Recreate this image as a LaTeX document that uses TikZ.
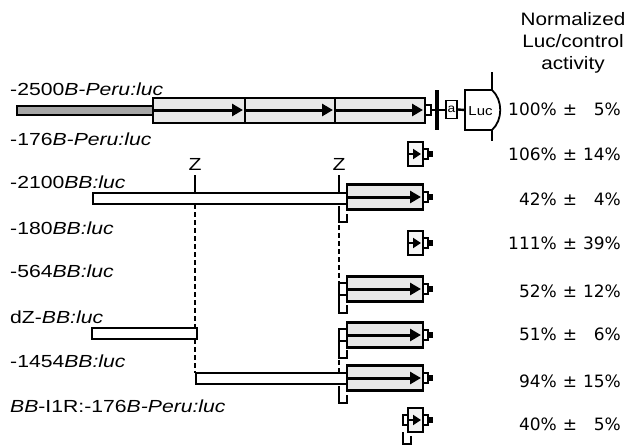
\documentclass[tikz,border=0pt]{standalone}
\usepackage{fontspec}
\setmainfont{Liberation Sans}
\newfontfamily\labfont{Liberation Sans}[FakeStretch=1.21]
\newfontfamily\hdfont{Liberation Sans}[FakeStretch=1.15]
\newfontfamily\pcfont{DejaVu Sans}
\usetikzlibrary{arrows.meta}
\tikzset{
 x=1pt,y=-1pt,
 outl/.style={draw=black,line width=2.1pt},
 gbox/.style={outl,fill=gray!18},
 wbox/.style={outl,fill=white},
 darkbar/.style={outl,fill=gray!70},
 arrline/.style={line width=3pt,-{Triangle[length=11pt,width=12pt]}},
 dashln/.style={line width=1.3pt,dash pattern=on 5pt off 3pt},
 lab/.style={anchor=base west,inner sep=0pt,font=\labfont\fontsize{17.5}{20}\selectfont},
 zlab/.style={anchor=base,inner sep=0pt,font=\labfont\fontsize{17.5}{20}\selectfont},
 pct/.style={anchor=base east,inner sep=0pt,font=\pcfont\fontsize{17}{20}\selectfont},
 pm/.style={anchor=base,inner sep=0pt,font=\pcfont\fontsize{17}{20}\selectfont},
 hd/.style={anchor=base,inner sep=0pt,font=\hdfont\fontsize{18}{20}\selectfont},
 ubr/.style={line width=1.8pt},
}
% tail piece at x, centre c
\newcommand\tailpc[2]{%
 \draw[wbox,line width=1.6pt] (#1,{#2-5}) rectangle ({#1+5},{#2+5});
 \fill ({#1+5},{#2-3}) rectangle ({#1+10},{#2+3});}
% BB promoter box at centre c
\newcommand\bbprom[1]{%
 \draw[gbox] (347,{#1-12.5}) rectangle (423,{#1+12.5});
 \draw[arrline] (347,#1) -- (421,#1);
 \tailpc{423}{#1}}
% small promoter at centre c
\newcommand\smprom[1]{%
 \draw[outl,fill=gray!8] (408,{#1-12}) rectangle (423,{#1+12});
 \draw[line width=2.6pt,-{Triangle[length=8pt,width=10pt]}] (408,#1) -- (421,#1);
 \tailpc{423}{#1}}
% U bracket
\newcommand\ubrack[3]{%
 \draw[ubr] (#1,#2) -- (#1,#3) -- ({#1+8},#3) -- ({#1+8},{#3-8});}
\begin{document}
\begin{tikzpicture}
\useasboundingbox (0,0) rectangle (627,445);
% header
\node[hd] (h1) at (573,25) {Normalized};
\node[hd] (h2) at (573,47) {Luc/control};
\node[hd] (h3) at (573,69) {activity};
% construct labels
\node[lab] (l1) at (10,95) {-2500\textit{B-Peru:luc}};
\node[lab] (l2) at (10,145) {-176\textit{B-Peru:luc}};
\node[lab] (l3) at (10,188) {-2100\textit{BB:luc}};
\node[lab] (l4) at (10,234) {-180\textit{BB:luc}};
\node[lab] (l5) at (10,277) {-564\textit{BB:luc}};
\node[lab] (l6) at (10,323) {dZ-\textit{BB:luc}};
\node[lab] (l7) at (10,367) {-1454\textit{BB:luc}};
\node[lab] (l8) at (10,412) {\textit{BB}-I1R:-176\textit{B-Peru:luc}};
% percentages
\foreach \v/\e/\b [count=\i] in {100\%/5\%/115,106\%/14\%/160,42\%/4\%/205,111\%/39\%/249,52\%/12\%/297,51\%/6\%/340,94\%/15\%/387,40\%/5\%/430}{
 \node[pct] (v\i) at (557,\b) {\v};
 \node[pm] (p\i) at (570,\b) {±};
 \node[pct] (e\i) at (621,\b) {\e};
}
% row 1
\draw[darkbar] (17,106) rectangle (153,115);
\draw[gbox] (153,98) rectangle (425,123);
\draw[outl] (245,98) -- (245,123);
\draw[outl] (335,98) -- (335,123);
\draw[arrline] (153,110) -- (243,110);
\draw[arrline] (245,110) -- (333,110);
\draw[arrline] (335,110) -- (423,110);
\draw[wbox,line width=1.6pt] (425,105) rectangle (431,115);
\draw[line width=2.4pt] (431,110) -- (446,110);
\draw[line width=3.5pt] (437,90) -- (437,130);
\node[outl,line width=1.8pt,fill=white,minimum width=11pt,minimum height=18pt,inner sep=0pt,font=\hdfont\fontsize{12}{12}\selectfont] (abox) at (451.5,109.5) {a};
\draw[line width=2.4pt] (abox.east) -- (465,110);
\draw[outl,line width=1.8pt,fill=white] (492,90) -- (465,90) -- (465,130) -- (492,130) .. controls (503,120) and (503,100) .. (492,90) -- cycle;
\node[inner sep=0pt,font=\hdfont\fontsize{13}{13}\selectfont] (luc) at (480.5,111) {Luc};
\draw[line width=2.2pt] (492,72) -- (492,90);
\draw[line width=2.2pt] (492,130) -- (492,141);
% row 2
\smprom{154}
% Z markers
\node[zlab] (z1) at (195,170) {Z};
\node[zlab] (z2) at (339,170) {Z};
\draw[line width=1.8pt] (195,175) -- (195,193);
\draw[line width=1.8pt] (339,175) -- (339,193);
% dashed lines
\draw[dashln] (195,204) -- (195,328);
\draw[dashln] (195,339) -- (195,373);
\draw[dashln] (339,225) -- (339,283);
\draw[dashln] (339,360) -- (339,373);
% row 3
\draw[wbox] (93,193) rectangle (347,204);
\bbprom{197}
\ubrack{339}{206}{222}
% row 4
\smprom{243}
% row 5
\draw[wbox] (339,283) rectangle (347,295);
\bbprom{289}
\ubrack{339}{295}{313}
% row 6
\draw[wbox] (92,328) rectangle (197,339);
\draw[wbox] (339,329) rectangle (347,341);
\bbprom{335}
\ubrack{339}{341}{358}
% row 7
\draw[wbox] (196,373) rectangle (347,384);
\bbprom{378}
\ubrack{339}{386}{403}
% row 8
\draw[wbox] (403,415) rectangle (408,425);
\smprom{420}
\ubrack{403}{432}{444}
\end{tikzpicture}
\end{document}
